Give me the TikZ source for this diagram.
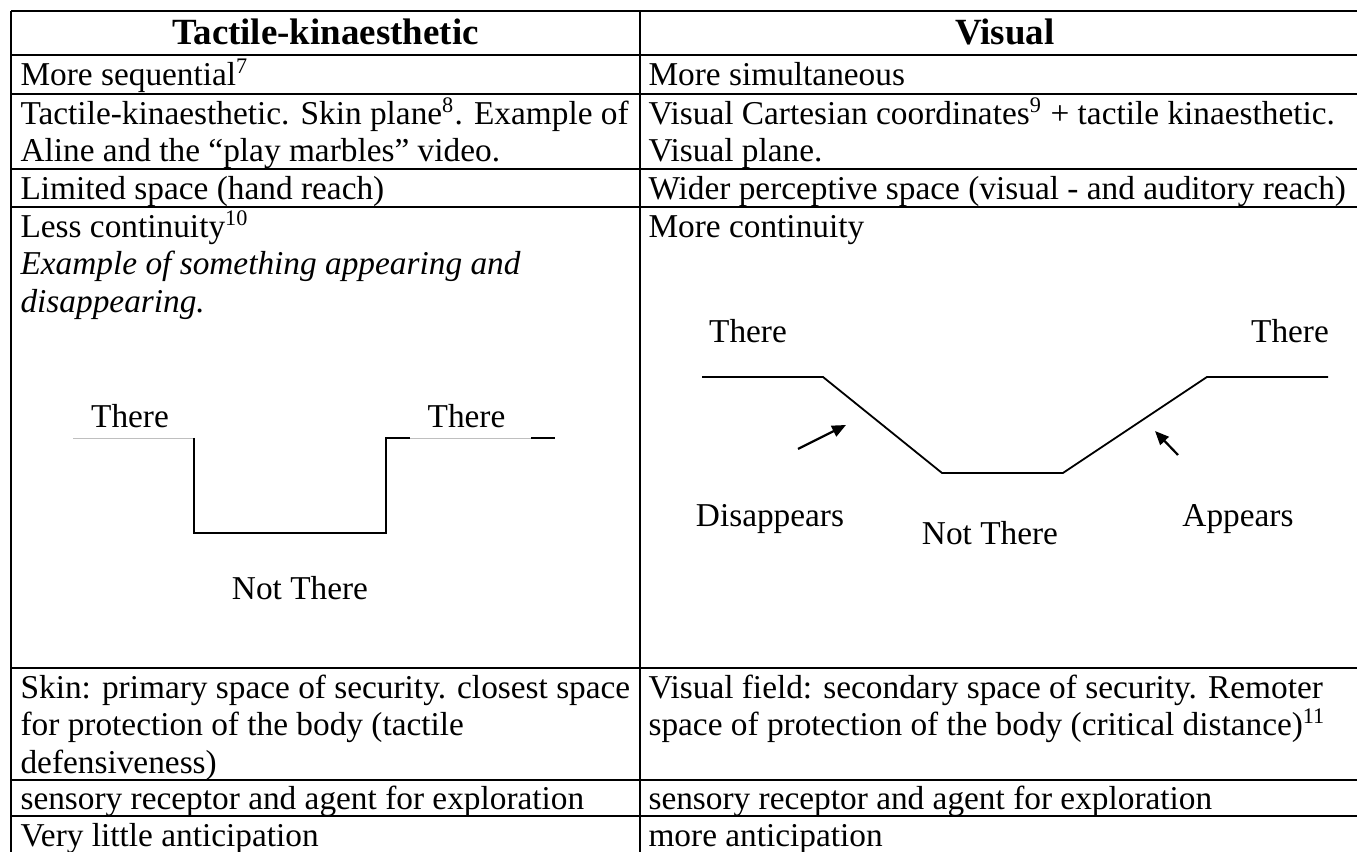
\documentclass[tikz,border=0pt]{standalone}
\usepackage{fontspec}
\setmainfont{Liberation Serif}
\usetikzlibrary{arrows.meta}

\begin{document}
\begin{tikzpicture}[x=0.36pt,y=-0.36pt,
  rule/.style={line width=0.8pt},
  cell/.style={anchor=base west,inner sep=0pt,font=\fontsize{12}{14}\selectfont},
  head/.style={anchor=base,inner sep=0pt,font=\fontsize{13.3}{16}\selectfont\bfseries},
  lbl/.style={anchor=base,inner sep=0pt,font=\fontsize{12}{14}\selectfont},
  trace/.style={line width=0.65pt,line join=miter},
  faint/.style={line width=0.3pt,gray!50},
  pointer/.style={line width=0.8pt,-{Triangle[length=5pt,width=4.2pt]}}]
\useasboundingbox (0,0) rectangle (1357,852);
\clip (0,0) rectangle (1357,852);

% table rules
\foreach \yy in {11,55,94,169,207,668,780,816}
  \draw[rule] (11,\yy) -- (1380,\yy);
\draw[rule] (11,11) -- (11,900);
\draw[rule] (640,11) -- (640,900);

% header
\node[head] (hL) at (325.5,45) {Tactile-kinaesthetic};
\node[head] (hR) at (1005,45) {Visual};

% left column
\node[cell] (l1) at (20,85.5) {More sequential\textsuperscript{7}};
\node[cell] (l2a) at (20,124.5) {Tactile-kinaesthetic. Skin plane\textsuperscript{8}. Example of};
\node[cell] (l2b) at (20,162) {Aline and the “play marbles” video.};
\node[cell] (l3) at (20,199.5) {Limited space (hand reach)};
\node[cell] (l4a) at (20,237.5) {Less continuity\textsuperscript{10}};
\node[cell] (l4b) at (20,275) {\itshape Example of something appearing and};
\node[cell] (l4c) at (20,312.5) {\itshape disappearing.};
\node[cell] (l5a) at (20,698.5) {Skin: primary space of security. closest space};
\node[cell] (l5b) at (20,736) {for protection of the body (tactile};
\node[cell] (l5c) at (20,773.5) {defensiveness)};
\node[cell] (l6) at (20,809.5) {sensory receptor and agent for exploration};
\node[cell] (l7) at (20,847) {Very little anticipation};

% right column
\node[cell] (r1) at (648,85.5) {More simultaneous};
\node[cell] (r2a) at (648,124.5) {Visual Cartesian coordinates\textsuperscript{9} + tactile kinaesthetic.};
\node[cell] (r2b) at (648,162) {Visual plane.};
\node[cell] (r3) at (648,199.5) {Wider perceptive space (visual - and auditory reach)};
\node[cell] (r4a) at (648,237.5) {More continuity};
\node[cell] (r5a) at (648,698.5) {Visual field: secondary space of security. Remoter};
\node[cell] (r5b) at (648,736) {space of protection of the body (critical distance)\textsuperscript{11}};
\node[cell] (r6) at (648,809.5) {sensory receptor and agent for exploration};
\node[cell] (r7) at (648,847) {more anticipation};

% step graph: abrupt presence and absence
\draw[faint] (73,438) -- (194,438);
\draw[trace] (194,438) -- (194,533) -- (386,533) -- (386,438) -- (410,438);
\draw[faint] (410,438) -- (531,438);
\draw[trace] (531,438) -- (555,438);
\node[lbl] (tA) at (130,428) {There};
\node[lbl] (tB) at (466.5,428) {There};
\node[lbl] (tC) at (300,600) {Not There};

% sloped graph: gradual presence and absence
\draw[trace] (702,377) -- (823,377) -- (942,473) -- (1063,473) -- (1207,377) -- (1328,377);
\node[lbl] (vA) at (748,343) {There};
\node[lbl] (vB) at (1290,343) {There};
\node[lbl] (vC) at (770,527) {Disappears};
\node[lbl] (vD) at (990,545) {Not There};
\node[lbl] (vE) at (1238,527) {Appears};
\coordinate (a1s) at (798,449);
\coordinate (a1e) at (846,425);
\coordinate (a2s) at (1178,455);
\coordinate (a2e) at (1155,431);
\draw[pointer] (a1s) -- (a1e);
\draw[pointer] (a2s) -- (a2e);
\end{tikzpicture}
\end{document}
